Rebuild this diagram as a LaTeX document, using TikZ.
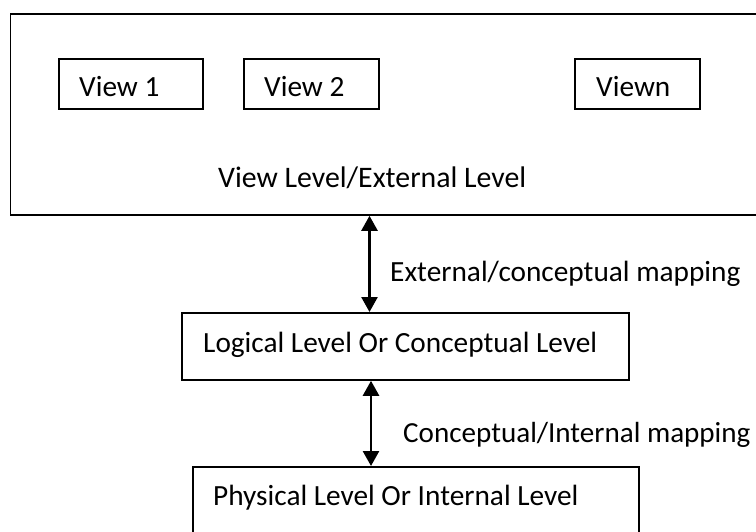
\documentclass[tikz,border=0pt]{standalone}
\usepackage{fontspec}
\setmainfont{Carlito}
\usetikzlibrary{arrows.meta}
\begin{document}
\begin{tikzpicture}[x=1pt,y=-1pt,
  boxnode/.style={draw=black,line width=1.8pt,inner sep=0pt,anchor=north west,fill=none},
  lbl/.style={anchor=base west,inner sep=0pt,font=\fontsize{29.3}{34}\selectfont},
  dbl/.style={line width=2.6pt,{Triangle[length=15pt,width=16pt]}-{Triangle[length=15pt,width=16pt]}}]
\useasboundingbox (0,0) rectangle (756,532);
\clip (0,0) rectangle (756,532);
\fill[white] (0,0) rectangle (756,532);
% boxes
\node[boxnode,minimum width=800pt,minimum height=201pt] (outer) at (9.5,13) {};
\node[boxnode,minimum width=144pt,minimum height=50pt] (v1) at (58,58) {};
\node[boxnode,minimum width=135pt,minimum height=50pt] (v2) at (243,58) {};
\node[boxnode,minimum width=125pt,minimum height=50pt] (vn) at (574,58) {};
\node[boxnode,minimum width=447pt,minimum height=67pt] (logical) at (181,312) {};
\node[boxnode,minimum width=446pt,minimum height=100pt] (physical) at (192,466) {};
% texts
\node[lbl] (t1) at (79,97) {View 1};
\node[lbl] (t2) at (264,97) {View 2};
\node[lbl] (tn) at (596,97) {Viewn};
\node[lbl,font=\fontsize{29.8}{34}\selectfont] (tv) at (218,188) {View Level/External Level};
\node[lbl] (tl) at (203,352) {Logical Level Or Conceptual Level};
\node[lbl] (tp) at (213,505) {Physical Level Or Internal Level};
\node[lbl] (m1) at (390,282) {External/conceptual mapping};
\node[lbl,font=\fontsize{29.1}{34}\selectfont] (m2) at (403,442) {Conceptual/Internal mapping};
% connectors
\coordinate (a1) at (369.5,0);
\coordinate (a2) at (371,0);
\draw[dbl] (outer.south -| a1) -- (logical.north -| a1);
\draw[dbl] (logical.south -| a2) -- (physical.north -| a2);
\end{tikzpicture}
\end{document}
